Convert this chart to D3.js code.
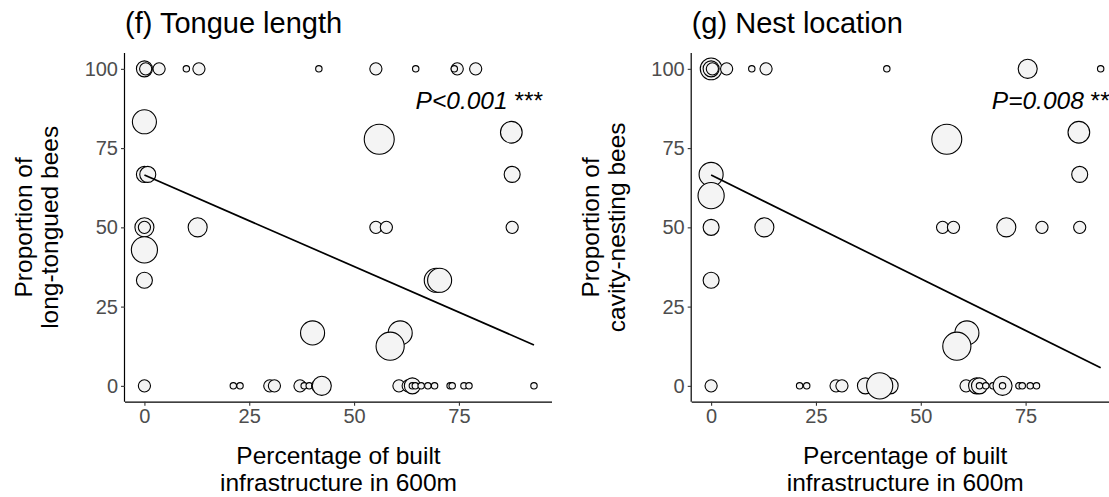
<!DOCTYPE html>
<meta charset="utf-8">
<script src="https://d3js.org/d3.v7.min.js"></script>
<style>
  body { margin: 0; background: #fff; }
  text { font-family: "Liberation Sans", Arial, sans-serif; }
</style>
<div id="chart"></div>
<script>

// ---- data ----
// (f) tongue length: % built infrastructure, proportion long-tongued, number of bees
var tonguePct  = [0, 0.3, 3.5, 10, 13, 41.6, 55.2, 64.7, 74.6, 73.9, 79,
                  0, 56, 87.5, 0, 0.8, 87.7, 0, 0, 12.7, 55.2, 57.7, 87.7,
                  0, 0, 69.6, 70.4, 40.1, 61, 58.6,
                  0, 21.2, 22.8, 29.9, 31, 37.1, 38.1, 39.3, 41.3, 42.3, 60.7, 62.9,
                  63.9, 63.9, 64.6, 66, 67.6, 69.2, 72.9, 73.4, 76.2, 77.4, 92.9];
var tongueProp = [100, 100, 100, 100, 100, 100, 100, 100, 100, 100, 100,
                  83.3, 77.8, 80, 66.7, 66.7, 66.7, 50, 50, 50, 50, 50, 50,
                  42.9, 33.3, 33.3, 33.3, 16.7, 16.7, 12.5,
                  0, 0, 0, 0, 0, 0, 0, 0, 0, 0, 0, 0,
                  0, 0, 0, 0, 0, 0, 0, 0, 0, 0, 0];
var tongueN    = [3, 2, 2, 1, 2, 1, 2, 1, 2, 1, 2,
                  6, 9, 5, 3, 3, 3, 4, 2, 4, 2, 2, 2,
                  7, 3, 6, 6, 6, 6, 8,
                  2, 1, 1, 2, 2, 2, 1, 1, 2, 4, 2, 2,
                  3, 1, 1, 1, 1, 1, 1, 1, 1, 1, 1];
var tongueFit  = {intercept: 66.5, slope: -0.577};
var tongueP    = "P<0.001", tongueStars = "***";

// (g) nest location: proportion cavity-nesting
var nestPct  = [0, 0, 0.3, 3.7, 9.7, 13.1, 41.9, 75.5, 92.9,
                56.2, 87.7, 0, 87.9, 0,
                0, 12.7, 55.2, 57.8, 70.4, 78.9, 87.9,
                0, 61, 58.6,
                0, 21.1, 22.8, 29.8, 31.2, 36.8, 42.7, 40.2, 60.8, 63.3, 64, 64,
                65.5, 67.2, 69.5, 69.5, 73.4, 74.2, 76.1, 77.6];
var nestProp = [100, 100, 100, 100, 100, 100, 100, 100, 100,
                77.8, 80, 66.7, 66.7, 60,
                50, 50, 50, 50, 50, 50, 50,
                33.3, 16.7, 12.5,
                0, 0, 0, 0, 0, 0, 0, 0, 0, 0, 0, 0,
                0, 0, 0, 0, 0, 0, 0, 0];
var nestN    = [5, 3, 2, 2, 1, 2, 1, 4, 1,
                9, 5, 6, 3, 7,
                3, 4, 2, 2, 4, 2, 2,
                3, 6, 8,
                2, 1, 1, 2, 2, 3, 3, 7, 2, 3, 3, 1,
                1, 1, 4, 1, 1, 1, 1, 1];
var nestFit  = {intercept: 66.5, slope: -0.654};
var nestP    = "P=0.008", nestStars = "**";

var xTicks = [0, 25, 50, 75];
var yTicks = [0, 25, 50, 75, 100];
var xTitle = ["Percentage of built", "infrastructure in 600m"];

var W = 1109, H = 497;
var svg = d3.select("#chart").append("svg")
    .attr("width", W).attr("height", H);

// shared scales (same layout for both panels)
var panelW = 427, plotTop = 53, plotBottom = 401.7;
var x = d3.scaleLinear().domain([-4.63, 97.2]).range([0, panelW]);
var y = d3.scaleLinear().domain([-5, 105]).range([plotBottom, plotTop]);
var r = d3.scaleRadial().domain([1, 9]).range([3.2, 15]);

function panel(left, title, yLab, xs, ys, ns, fit, pText, stars) {
  var g = svg.append("g").attr("transform", "translate(" + left + ",0)");

  // title
  g.append("text").attr("x", 0).attr("y", 33)
    .attr("font-size", 29).attr("fill", "#000").text(title);

  // points
  var pts = xs.map(function(d, i) { return {x: d, y: ys[i], n: ns[i]}; });
  g.selectAll("circle.pt").data(pts).enter().append("circle")
    .attr("class", "pt")
    .attr("cx", function(d) { return x(d.x); })
    .attr("cy", function(d) { return y(d.y); })
    .attr("r", function(d) { return r(d.n); })
    .attr("fill", "#f4f4f4").attr("stroke", "#000").attr("stroke-width", 1.1);

  // regression line over the range of x
  var ext = d3.extent(xs);
  g.append("path")
    .datum(ext)
    .attr("fill", "none").attr("stroke", "#000").attr("stroke-width", 1.7)
    .attr("d", d3.line()
      .x(function(d) { return x(d); })
      .y(function(d) { return y(fit.intercept + fit.slope * d); }));

  // axes
  var ax = g.append("g").attr("transform", "translate(0," + plotBottom + ")")
    .call(d3.axisBottom(x).tickValues(xTicks).tickSize(4).tickPadding(3));
  var ay = g.append("g")
    .call(d3.axisLeft(y).tickValues(yTicks).tickSize(4).tickPadding(3));
  [ax, ay].forEach(function(a) {
    a.select(".domain").attr("stroke", "#000").attr("stroke-width", 1.2);
    a.selectAll(".tick line").attr("stroke", "#333").attr("stroke-width", 1.1);
    a.selectAll(".tick text").attr("fill", "#4d4d4d").attr("font-size", 20)
      .attr("font-family", "Liberation Sans, Arial, sans-serif");
  });
  // plain axis lines without the outer ticks
  ax.select(".domain").attr("d", "M0,0.5H" + panelW);
  ay.select(".domain").attr("d", "M-0.5," + plotTop + "V" + plotBottom);

  // p value
  var pt = g.append("text").attr("x", 418).attr("y", 109)
    .attr("text-anchor", "end").attr("font-size", 24.5).attr("fill", "#000");
  pt.append("tspan").attr("font-style", "italic").text(pText);
  pt.append("tspan").text(" " + stars);

  // x title
  g.selectAll("text.xt").data(xTitle).enter().append("text")
    .attr("class", "xt")
    .attr("x", panelW / 2).attr("y", function(d, i) { return 464 + i * 27; })
    .attr("text-anchor", "middle").attr("font-size", 24.5).attr("fill", "#000")
    .text(function(d) { return d; });

  // y title
  g.selectAll("text.yt").data(yLab).enter().append("text")
    .attr("class", "yt")
    .attr("transform", function(d, i) {
      return "translate(" + (-93 + i * 26) + "," + ((plotTop + plotBottom) / 2) + ") rotate(-90)";
    })
    .attr("text-anchor", "middle").attr("font-size", 24.5).attr("fill", "#000")
    .text(function(d) { return d; });
}

panel(125, "(f) Tongue length", ["Proportion of", "long-tongued bees"],
      tonguePct, tongueProp, tongueN, tongueFit, tongueP, tongueStars);
panel(691.7, "(g) Nest location", ["Proportion of", "cavity-nesting bees"],
      nestPct, nestProp, nestN, nestFit, nestP, nestStars);

</script>
